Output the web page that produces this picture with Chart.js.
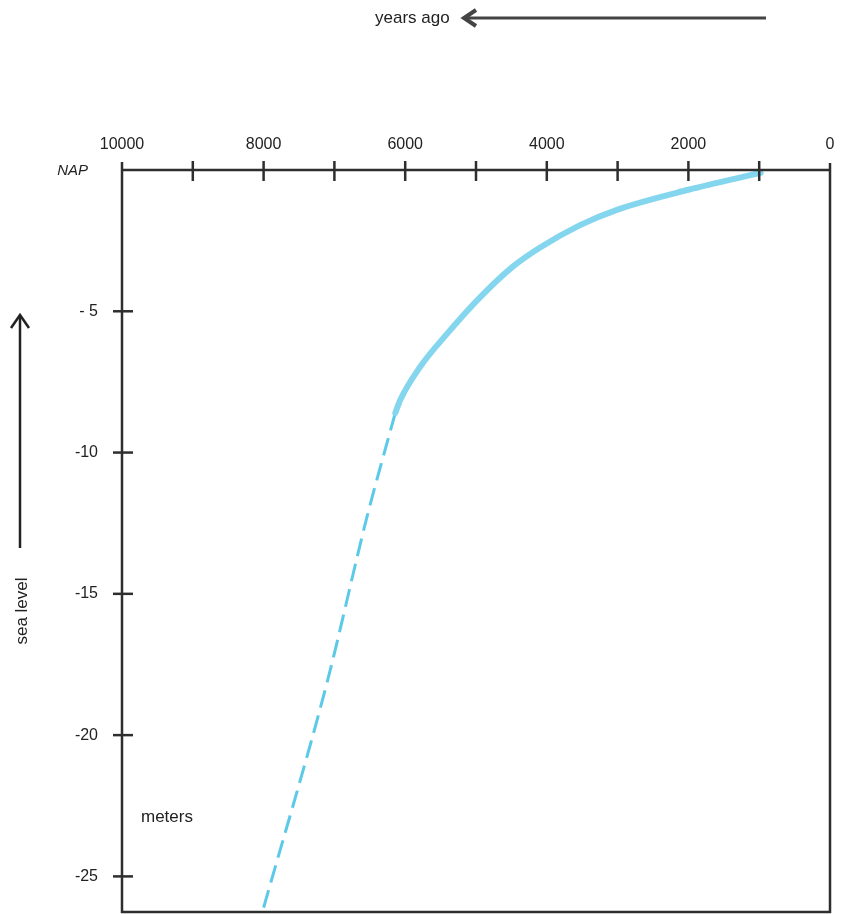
<!DOCTYPE html>
<html>
<head>
<meta charset="utf-8">
<script src="https://cdn.jsdelivr.net/npm/chart.js@4"></script>
<style>
  html, body { margin: 0; padding: 0; background: #ffffff; }
  #wrap { width: 844px; height: 914px; }
</style>
</head>
<body>
<div id="wrap"><canvas id="c" width="844" height="914"></canvas></div>
<script>
// ---- data ----
const solidYears  = [980, 2000, 3000, 3530, 4100, 4480, 4940, 5410, 5790, 6070, 6140];
const solidLevels = [-0.1, -0.7, -1.4, -1.95, -2.75, -3.42, -4.5, -5.8, -6.97, -8.14, -8.6];
const dashedYears  = [6140, 6540, 7105, 8010];
const dashedLevels = [-8.6, -12.28, -18.15, -26.2];

const yearTicks  = [0, 1000, 2000, 3000, 4000, 5000, 6000, 7000, 8000, 9000, 10000];
const yearLabels = ['0', '', '2000', '', '4000', '', '6000', '', '8000', '', '10000'];
const depthTicks  = [0, -5, -10, -15, -20, -25];
const depthLabels = ['', '- 5', '-10', '-15', '-20', '-25'];
const zeroLabel = 'NAP';
const xTitle = 'years ago';
const yTitle = 'sea level';
const unitLabel = 'meters';

const INK = '#2e2e2e';
const FONT = '"Liberation Sans", Arial, Helvetica, sans-serif';
const TARGET_BOTTOM = 912;

const pts = (xs, ys) => xs.map((x, i) => ({ x: x, y: ys[i] }));

const framePlugin = {
  id: 'frame',
  afterDatasetsDraw(chart) {
    const ctx = chart.ctx;
    const xs = chart.scales.x, ys = chart.scales.y;
    const a = chart.chartArea;
    ctx.save();
    ctx.strokeStyle = INK;
    ctx.lineCap = 'butt';
    ctx.lineWidth = 2.5;
    ctx.beginPath();
    ctx.moveTo(a.left, a.top); ctx.lineTo(a.right, a.top);
    ctx.stroke();
    ctx.beginPath();
    ctx.moveTo(a.left, a.top - 8); ctx.lineTo(a.left, a.bottom);
    ctx.lineTo(a.right, a.bottom); ctx.lineTo(a.right, a.top - 7);
    ctx.stroke();
    yearTicks.forEach(v => {
      const px = xs.getPixelForValue(v);
      if (Math.abs(px - a.left) < 2 || Math.abs(px - a.right) < 2) return;
      ctx.beginPath();
      ctx.moveTo(px, a.top - 9); ctx.lineTo(px, a.top + 11);
      ctx.stroke();
    });
    depthTicks.forEach(v => {
      if (v === 0) return;
      const py = ys.getPixelForValue(v);
      ctx.beginPath();
      ctx.moveTo(a.left - 9, py); ctx.lineTo(a.left + 11, py);
      ctx.stroke();
    });
    ctx.fillStyle = '#222';
    ctx.font = 'italic 15px ' + FONT;
    ctx.textAlign = 'right';
    ctx.textBaseline = 'middle';
    ctx.fillText(zeroLabel, 88, ys.getPixelForValue(0) + 1);
    ctx.font = '17px ' + FONT;
    ctx.textAlign = 'left';
    ctx.fillText(unitLabel, 141, 817);
    ctx.fillText(xTitle, 375, 18);
    ctx.strokeStyle = '#444';
    ctx.lineWidth = 3;
    ctx.beginPath();
    ctx.moveTo(766, 18); ctx.lineTo(465, 18);
    ctx.stroke();
    ctx.lineWidth = 4;
    ctx.lineJoin = 'miter';
    ctx.beginPath();
    ctx.moveTo(476, 10); ctx.lineTo(464, 18); ctx.lineTo(476, 26);
    ctx.stroke();
    ctx.strokeStyle = '#222';
    ctx.lineWidth = 2.5;
    ctx.beginPath();
    ctx.moveTo(20, 548); ctx.lineTo(20, 316);
    ctx.stroke();
    ctx.beginPath();
    ctx.moveTo(11, 328); ctx.lineTo(20, 315); ctx.lineTo(29, 328);
    ctx.stroke();
    ctx.save();
    ctx.translate(22, 611);
    ctx.rotate(-Math.PI / 2);
    ctx.textAlign = 'center';
    ctx.textBaseline = 'middle';
    ctx.fillStyle = '#222';
    ctx.font = '17px ' + FONT;
    ctx.fillText(yTitle, 0, 0);
    ctx.restore();
    ctx.restore();
  }
};

const chart = new Chart(document.getElementById('c'), {
  type: 'scatter',
  data: {
    datasets: [
      {
        label: 'observed',
        data: pts(solidYears, solidLevels),
        showLine: true,
        borderColor: '#84d6ef',
        borderWidth: 6,
        pointRadius: 0,
        cubicInterpolationMode: 'monotone',
        borderCapStyle: 'round'
      },
      {
        label: 'estimated',
        data: pts(dashedYears, dashedLevels),
        showLine: true,
        borderColor: '#5cc9e8',
        borderWidth: 3,
        borderDash: [18, 8],
        pointRadius: 0,
        cubicInterpolationMode: 'monotone'
      }
    ]
  },
  options: {
    responsive: false,
    maintainAspectRatio: false,
    animation: false,
    layout: { padding: { left: 0, top: 0, right: 14, bottom: 2 } },
    plugins: { legend: { display: false }, tooltip: { enabled: false } },
    scales: {
      x: {
        type: 'linear',
        position: 'top',
        reverse: true,
        min: 0,
        max: 10000,
        afterBuildTicks: s => { s.ticks = yearTicks.map(v => ({ value: v })); },
        afterFit: s => { s.height = 170; s.paddingLeft = 0; s.paddingRight = 0; },
        grid: { display: false },
        border: { display: false },
        ticks: {
          autoSkip: false,
          maxRotation: 0,
          padding: 8,
          color: '#222',
          font: { family: FONT, size: 16 },
          callback: v => yearLabels[yearTicks.indexOf(v)]
        }
      },
      y: {
        type: 'linear',
        min: -26.26,
        max: 0,
        afterBuildTicks: s => { s.ticks = depthTicks.map(v => ({ value: v })); },
        afterFit: s => { s.width = 122; s.paddingTop = 0; s.paddingBottom = 0; },
        grid: { display: false },
        border: { display: false },
        ticks: {
          autoSkip: false,
          padding: 16,
          color: '#222',
          font: { family: FONT, size: 16 },
          callback: v => depthLabels[depthTicks.indexOf(v)]
        }
      }
    }
  }
  ,plugins: [framePlugin]
});

// safety: keep the plot frame ending where it does in the picture
const gap = TARGET_BOTTOM - chart.chartArea.bottom;
if (Math.abs(gap) > 0.5) {
  chart.options.layout.padding.bottom = Math.max(0, 2 - gap);
  chart.update();
}
</script>
</body>
</html>
